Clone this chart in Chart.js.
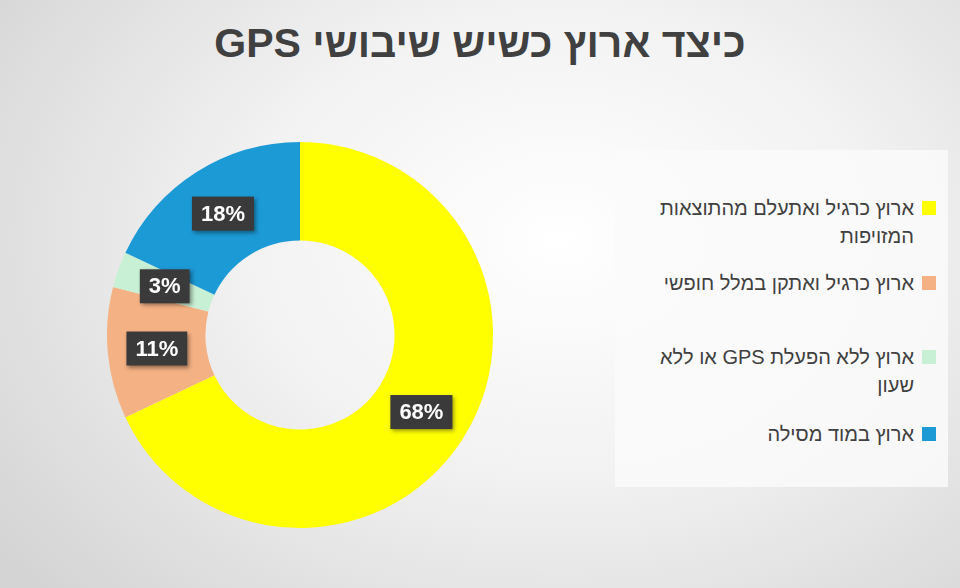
<!DOCTYPE html>
<html><head><meta charset="utf-8">
<script src="https://cdn.jsdelivr.net/npm/chart.js"></script>
<style>
html,body{margin:0;padding:0}
body{width:960px;height:588px;position:relative;overflow:hidden;
background:radial-gradient(ellipse 700px 520px at 560px 240px,#ffffff 0%,#f2f2f2 45%,#d4d4d4 100%);font-family:"Liberation Sans",Arial,sans-serif}
#title{position:absolute;left:0;width:960px;top:20px;text-align:center;font-weight:bold;font-size:41px;color:#404040;direction:rtl}
#wrap{position:absolute;left:107px;top:142px;width:386px;height:386px}
#legend{position:absolute;left:615px;top:150px;width:333px;height:337px;background:rgba(250,250,250,0.85);direction:rtl}
.item{position:absolute;right:12px;display:flex;align-items:flex-start;font-size:20px;color:#404040;line-height:28px}
.sw{width:14px;height:14px;margin-top:7px;margin-left:8px;flex:none}
</style></head><body>
<div id="title">כיצד ארוץ כשיש שיבושי GPS</div>
<div id="wrap"><canvas id="c"></canvas></div>
<div id="legend"></div>
<script>
const categories=["ארוץ כרגיל ואתעלם מהתוצאות המזויפות","ארוץ כרגיל ואתקן במלל חופשי","ארוץ ללא הפעלת GPS או ללא שעון","ארוץ במוד מסילה"];
const values=[68,11,3,18];
const colors=["#FFFF00","#F4B183","#C8F0D4","#1C9AD6"];
const legendTops=[44,119,193,270];
const legendWidths=[300,300,280,300];
const lg=document.getElementById('legend');
categories.forEach((c,i)=>{const d=document.createElement('div');d.className='item';d.style.top=legendTops[i]+'px';
d.innerHTML='<span class="sw" style="background:'+colors[i]+'"></span><span style="max-width:'+(i==2?260:290)+'px">'+c+'</span>';lg.appendChild(d);});
const labelPlugin={id:'lbl',afterDatasetsDraw(ch){const ctx=ch.ctx;const meta=ch.getDatasetMeta(0);
meta.data.forEach((a,i)=>{const p=a.getProps(['x','y','startAngle','endAngle','innerRadius','outerRadius'],true);
const ang=(p.startAngle+p.endAngle)/2,r=(p.innerRadius+p.outerRadius)/2;const x=p.x+Math.cos(ang)*r,y=p.y+Math.sin(ang)*r;
const t=values[i]+'%';ctx.save();ctx.font='bold 22px "Liberation Sans",Arial';const w=ctx.measureText(t).width+18,h=34;
ctx.shadowColor='rgba(0,0,0,0.4)';ctx.shadowBlur=4;ctx.shadowOffsetX=2;ctx.shadowOffsetY=2;
ctx.fillStyle='#3a3a3a';ctx.fillRect(x-w/2,y-h/2,w,h);ctx.shadowColor='transparent';
ctx.fillStyle='#fff';ctx.textAlign='center';ctx.textBaseline='middle';ctx.fillText(t,x,y+1);ctx.restore();});}};
new Chart(document.getElementById('c'),{type:'doughnut',data:{labels:categories,datasets:[{data:values,backgroundColor:colors,borderWidth:0}]},
options:{responsive:true,maintainAspectRatio:false,animation:false,cutout:'49%',layout:{padding:0},
plugins:{legend:{display:false},tooltip:{enabled:false}}},plugins:[labelPlugin]});
</script></body></html>
